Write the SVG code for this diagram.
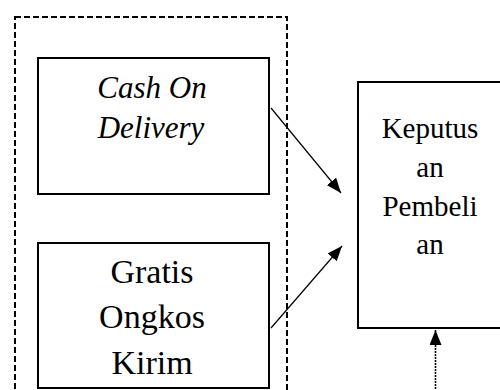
<svg xmlns="http://www.w3.org/2000/svg" width="500" height="390" viewBox="0 0 500 390">
<style>
.box{fill:#fff;stroke:#000;stroke-width:2}
.grp{fill:none;stroke:#000;stroke-width:2;stroke-dasharray:6 3}
.conn{stroke:#000;stroke-width:1.2;fill:none}
.dot{stroke-width:1.6;stroke-dasharray:2 1}
.t{font-family:'Liberation Serif','Times New Roman',serif;fill:#000;text-anchor:middle}
.it{font-style:italic;font-size:31px}
.lg{font-size:34px}
.md{font-size:29px}
</style>
<defs>
<marker id="ah" markerUnits="userSpaceOnUse" markerWidth="16" markerHeight="12" refX="15" refY="6" orient="auto">
<path d="M0,0 L15,6 L0,12 Z" fill="#000"/>
</marker>
</defs>
<rect x="0" y="0" width="500" height="390" fill="#fff"/>
<g id="group">
<rect class="grp" x="15" y="17" width="272" height="400"/>
</g>
<g id="cod">
<rect class="box" x="38" y="58" width="231" height="136"/>
<text class="t it" x="152" y="98">Cash On</text>
<text class="t it" x="151" y="138">Delivery</text>
</g>
<g id="gratis">
<rect class="box" x="38" y="243" width="231" height="145"/>
<text class="t lg" x="152" y="283">Gratis</text>
<text class="t lg" x="152" y="328">Ongkos</text>
<text class="t lg" x="152" y="374">Kirim</text>
</g>
<g id="keputusan">
<rect class="box" x="358" y="82" width="160" height="246"/>
<text class="t md" x="430" y="138">Keputus</text>
<text class="t md" x="430" y="177">an</text>
<text class="t md" x="430" y="216">Pembeli</text>
<text class="t md" x="430" y="254">an</text>
</g>
<g id="connectors">
<line class="conn" x1="271" y1="108" x2="341" y2="193" marker-end="url(#ah)"/>
<line class="conn" x1="271" y1="328" x2="342" y2="246" marker-end="url(#ah)"/>
<line class="conn dot" x1="435.5" y1="392" x2="435.5" y2="330" marker-end="url(#ah)"/>
</g>
</svg>
